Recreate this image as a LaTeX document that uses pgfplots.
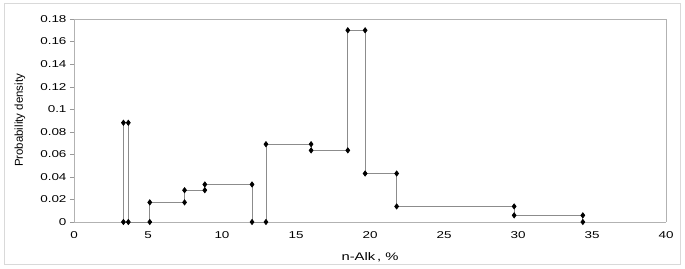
\documentclass[border=0pt]{standalone}
\usepackage{pgfplots}
\pgfplotsset{compat=1.18}
\usepackage{fontspec}
\setmainfont{Liberation Sans}
\newfontfamily\wide{Liberation Sans}[FakeStretch=1.35]
\begin{document}
\begin{tikzpicture}
\useasboundingbox (-74bp,-47bp) rectangle (611bp,222bp);
\draw[black!15, line width=1bp] (-69bp,-42bp) rectangle (606bp,218bp);
\begin{axis}[
  at={(0,0)}, anchor=south west,
  scale only axis, width=592bp, height=203bp,
  xmin=0, xmax=40, ymin=0, ymax=0.18,
  xtick={0,5,...,40},
  ytick={0,0.02,...,0.18},
  yticklabel style={/pgf/number format/fixed,/pgf/number format/precision=2},
  /pgf/number format/assume math mode=true,
  scaled y ticks=false,
  axis line style={black!30},
  tick style={black!40},
  tick align=outside,
  major tick length=4bp,
  xtick style={draw=none},
  axis x line*=bottom, axis y line*=left,
  every outer x axis line/.append style={-},
  every outer y axis line/.append style={-},
  separate axis lines,
  ticklabel style={font=\wide\fontsize{10}{12}\selectfont},
  xlabel={n-Alk\,, \%},
  ylabel={Probability density},
  xlabel style={font=\wide\fontsize{11}{12}\selectfont, at={(axis description cs:0.5,-0.1724)}, anchor=center},
  ylabel style={font=\fontsize{11.5}{12}\selectfont, at={(axis description cs:-0.0912,0.5)}, anchor=center},
  xticklabel style={yshift=-2bp},
  clip=false,
]
\draw[black!30] (axis cs:0,0.18) -- (axis cs:40,0.18) -- (axis cs:40,0);
\addplot[black!45, line width=0.7pt, mark=diamond*, mark size=2.6bp,
  mark options={draw=black, fill=black}] coordinates {
(3.34,0) (3.34,0.088) (3.67,0.088) (3.67,0) (5.12,0) (5.12,0.0174)
(7.47,0.0174) (7.47,0.0282) (8.84,0.0282) (8.84,0.0333) (12.03,0.0333)
(12.03,0) (12.97,0) (12.97,0.069) (16.02,0.069) (16.02,0.0635)
(18.5,0.0635) (18.5,0.170) (19.67,0.170) (19.67,0.043) (21.8,0.043)
(21.8,0.0138) (29.74,0.0138) (29.74,0.0059) (34.38,0.0059) (34.38,0)
};
\end{axis}
\end{tikzpicture}
\end{document}
